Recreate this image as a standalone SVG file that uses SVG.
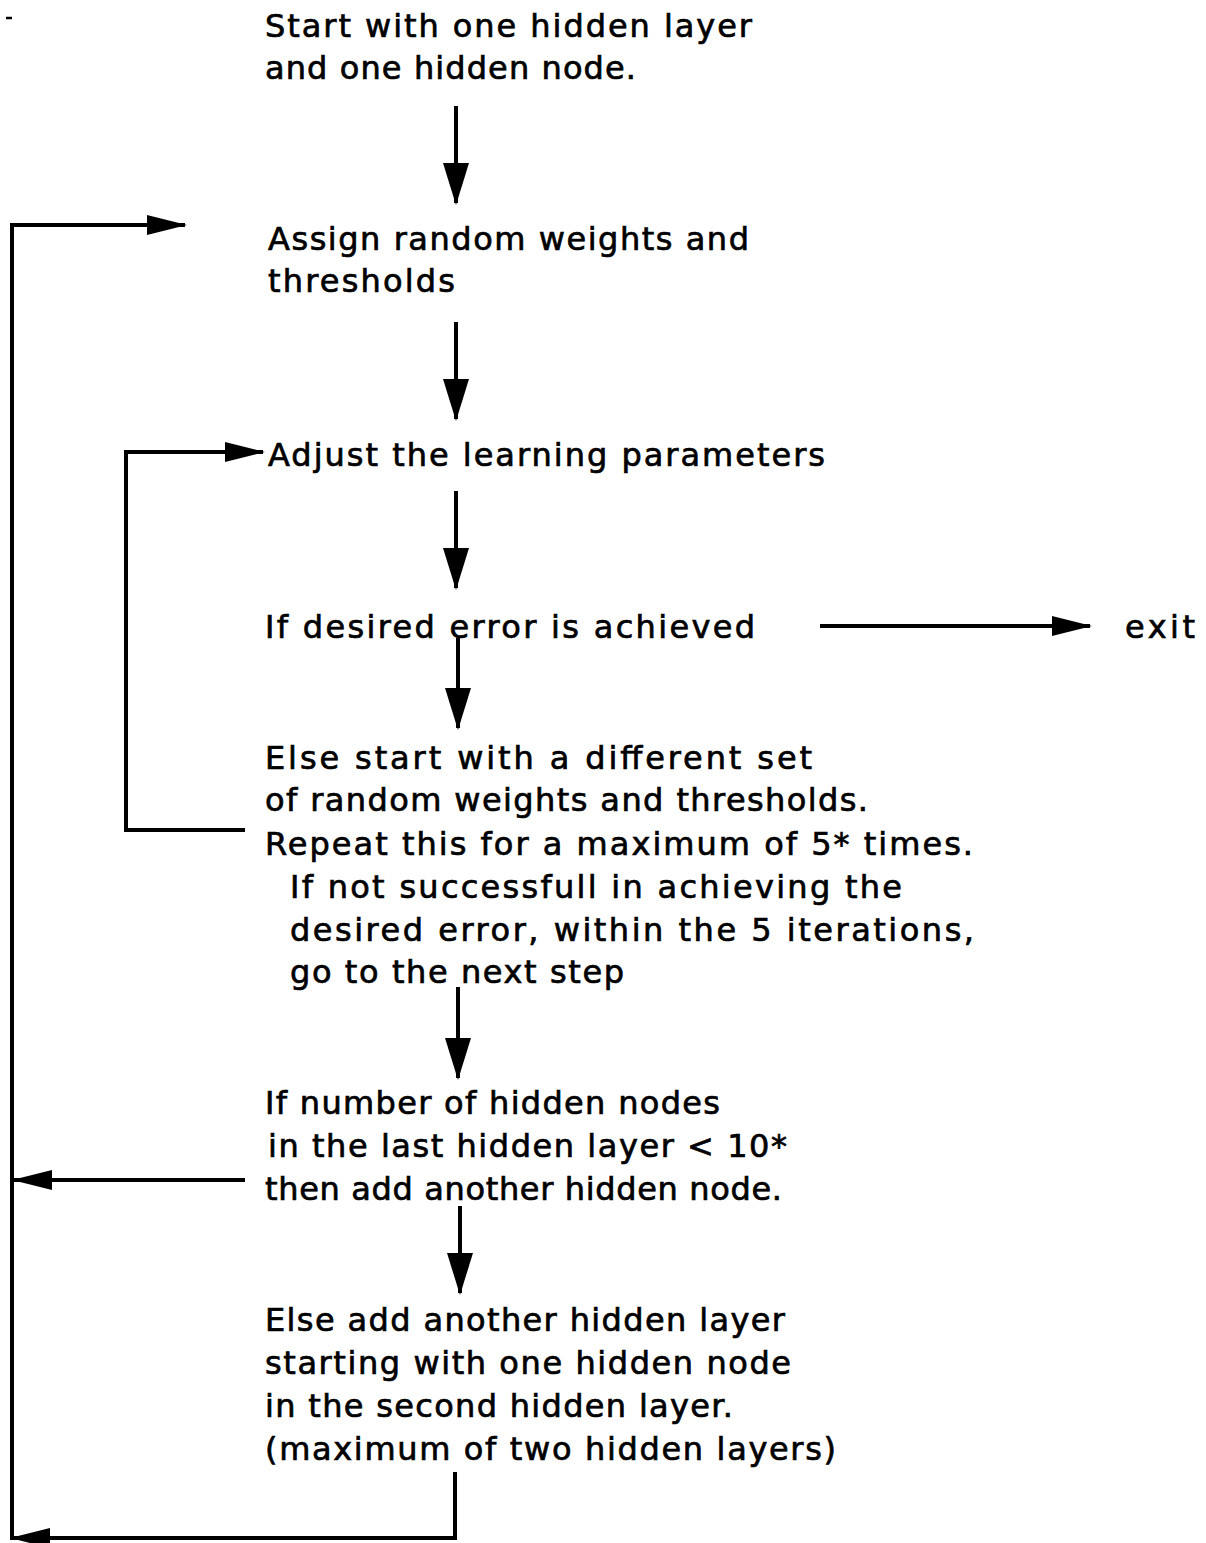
<svg xmlns="http://www.w3.org/2000/svg" width="1206" height="1543" viewBox="0 0 1206 1543">
  <style>
    .t { font-family: "DejaVu Sans", "Liberation Sans", sans-serif; font-size: 32px; fill: #000; stroke: #000; stroke-width: 0.7; }
    .ln { fill: none; stroke: #000; stroke-width: 4; stroke-linecap: butt; stroke-linejoin: miter; }
  </style>
  <defs>
    <marker id="head" viewBox="0 0 42 26" refX="40" refY="13" markerWidth="42" markerHeight="26" markerUnits="userSpaceOnUse" orient="auto">
      <path d="M0,0 L42,13 L0,26 Z" fill="#000"/>
    </marker>
    <marker id="headH" viewBox="0 0 40 20" refX="38" refY="10" markerWidth="40" markerHeight="20" markerUnits="userSpaceOnUse" orient="auto">
      <path d="M0,0 L40,10 L0,20 Z" fill="#000"/>
    </marker>
  </defs>
  <rect width="1206" height="1543" fill="#fff"/>

  <!-- stray mark at top left -->
  <line x1="6" y1="18" x2="12" y2="18" stroke="#000" stroke-width="2.5"/>

  <g id="start">
    <text class="t" x="265" y="37" textLength="487" lengthAdjust="spacing">Start with one hidden layer</text>
    <text class="t" x="265" y="79" textLength="371" lengthAdjust="spacing">and one hidden node.</text>
  </g>
  <g id="assign">
    <text class="t" x="268" y="250" textLength="481" lengthAdjust="spacing">Assign random weights and</text>
    <text class="t" x="268" y="292" textLength="187" lengthAdjust="spacing">thresholds</text>
  </g>
  <g id="adjust">
    <text class="t" x="268" y="466" textLength="557" lengthAdjust="spacing">Adjust the learning parameters</text>
  </g>
  <g id="check">
    <text class="t" x="265" y="638" textLength="490" lengthAdjust="spacing">If desired error is achieved</text>
  </g>
  <g id="exit">
    <text class="t" x="1125" y="638" textLength="70" lengthAdjust="spacing">exit</text>
  </g>
  <g id="retry">
    <text class="t" x="265" y="769" textLength="547" lengthAdjust="spacing">Else start with a different set</text>
    <text class="t" x="265" y="811" textLength="603" lengthAdjust="spacing">of random weights and thresholds.</text>
    <text class="t" x="265" y="855" textLength="708" lengthAdjust="spacing">Repeat this for a maximum of 5* times.</text>
    <text class="t" x="290" y="898" textLength="612" lengthAdjust="spacing">If not successfull in achieving the</text>
    <text class="t" x="290" y="941" textLength="684" lengthAdjust="spacing">desired error, within the 5 iterations,</text>
    <text class="t" x="290" y="983" textLength="334" lengthAdjust="spacing">go to the next step</text>
  </g>
  <g id="addnode">
    <text class="t" x="265" y="1114" textLength="455" lengthAdjust="spacing">If number of hidden nodes</text>
    <text class="t" x="268" y="1157" textLength="519" lengthAdjust="spacing">in the last hidden layer &lt; 10*</text>
    <text class="t" x="265" y="1200" textLength="517" lengthAdjust="spacing">then add another hidden node.</text>
  </g>
  <g id="addlayer">
    <text class="t" x="265" y="1331" textLength="520" lengthAdjust="spacing">Else add another hidden layer</text>
    <text class="t" x="265" y="1374" textLength="526" lengthAdjust="spacing">starting with one hidden node</text>
    <text class="t" x="265" y="1417" textLength="468" lengthAdjust="spacing">in the second hidden layer.</text>
    <text class="t" x="265" y="1460" textLength="571" lengthAdjust="spacing">(maximum of two hidden layers)</text>
  </g>

  <g id="connectors">
    <!-- main downward flow -->
    <line class="ln" x1="456" y1="106" x2="456" y2="203" marker-end="url(#head)"/>
    <line class="ln" x1="456" y1="322" x2="456" y2="419" marker-end="url(#head)"/>
    <line class="ln" x1="456" y1="491" x2="456" y2="588" marker-end="url(#head)"/>
    <line class="ln" x1="458" y1="638" x2="458" y2="728" marker-end="url(#head)"/>
    <line class="ln" x1="458" y1="987" x2="458" y2="1078" marker-end="url(#head)"/>
    <line class="ln" x1="460" y1="1206" x2="460" y2="1293" marker-end="url(#head)"/>
    <!-- exit -->
    <line class="ln" x1="820" y1="626" x2="1090" y2="626" marker-end="url(#headH)"/>
    <!-- retry loop back to adjust -->
    <polyline class="ln" points="245,830 126,830 126,452 263,452" marker-end="url(#headH)"/>
    <!-- add node back to outer loop -->
    <line class="ln" x1="245" y1="1180" x2="14" y2="1180" marker-end="url(#headH)"/>
    <!-- add layer back to outer loop -->
    <polyline class="ln" points="455,1472 455,1538 12,1538" marker-end="url(#headH)"/>
    <!-- outer loop to assign -->
    <polyline class="ln" points="12,1540 12,225 185,225" marker-end="url(#headH)"/>
  </g>
</svg>
